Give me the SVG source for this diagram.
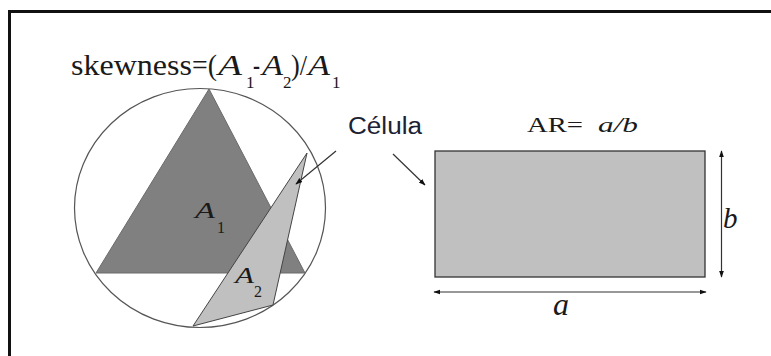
<svg xmlns="http://www.w3.org/2000/svg" width="771" height="356" viewBox="0 0 771 356">
<style>
text.tm{fill:#1a1a1a}
text.it{font-style:italic}
.sans{font-family:"Liberation Sans",Arial,sans-serif;fill:#1c2233}
.line{stroke:#333;stroke-width:1.2;fill:none}
</style>
<defs>
<marker id="ah" viewBox="0 0 10 10" refX="9" refY="5" markerWidth="7" markerHeight="7" markerUnits="userSpaceOnUse" orient="auto-start-reverse">
<path d="M0,1.5 L10,5 L0,8.5 z" fill="#111"/>
</marker>
</defs>
<rect width="771" height="356" fill="#fff"/>
<g id="frame">
<line x1="8" y1="11.5" x2="771" y2="11.5" stroke="#111" stroke-width="3"/>
<line x1="9.5" y1="10" x2="9.5" y2="356" stroke="#111" stroke-width="3"/>
</g>
<g id="skewness-title" font-family="Liberation Serif, DejaVu Serif, serif">
<text class="tm" x="71" y="75" font-size="29" textLength="121" lengthAdjust="spacingAndGlyphs">skewness</text>
<text class="tm" x="192" y="75" font-size="29" textLength="25" lengthAdjust="spacingAndGlyphs">=(</text>
<text class="tm it" x="218" y="75" font-size="29" textLength="24" lengthAdjust="spacingAndGlyphs">A</text>
<text class="tm" x="246" y="88" font-size="17">1</text>
<text class="tm" x="253" y="75" font-size="29" textLength="7" lengthAdjust="spacingAndGlyphs">-</text>
<text class="tm it" x="262" y="75" font-size="29" textLength="21" lengthAdjust="spacingAndGlyphs">A</text>
<text class="tm" x="283" y="88" font-size="17">2</text>
<text class="tm" x="291" y="75" font-size="29" textLength="16" lengthAdjust="spacingAndGlyphs">)/</text>
<text class="tm it" x="308" y="75" font-size="29" textLength="22" lengthAdjust="spacingAndGlyphs">A</text>
<text class="tm" x="332" y="88" font-size="17">1</text>
</g>
<g id="skewness-figure">
<ellipse cx="200" cy="208" rx="125.5" ry="119.5" fill="none" stroke="#555" stroke-width="1.2"/>
<polygon id="triangle-A1" points="209,89 96,273 305,273" fill="#808080" stroke="#6a6a6a" stroke-width="1"/>
<polygon id="triangle-A2" points="307,153 273,305 193,326" fill="#c0c0c0" stroke="#444" stroke-width="1"/>
<g font-family="Liberation Serif, DejaVu Serif, serif">
<text class="tm it" x="195" y="218" font-size="23" textLength="20" lengthAdjust="spacingAndGlyphs">A</text>
<text class="tm" x="217" y="233" font-size="16">1</text>
<text class="tm it" x="235" y="283" font-size="23" textLength="19" lengthAdjust="spacingAndGlyphs">A</text>
<text class="tm" x="254" y="297" font-size="16">2</text>
</g>
</g>
<g id="celula-label">
<text class="sans" x="348" y="134" font-size="23" textLength="74" lengthAdjust="spacingAndGlyphs">Célula</text>
</g>
<g id="ar-figure">
<rect id="cell-rect" x="435" y="151" width="270" height="126" fill="#c0c0c0" stroke="#333" stroke-width="1.3"/>
<g font-family="Liberation Serif, DejaVu Serif, serif">
<text class="tm" x="527" y="132" font-size="22" textLength="56" lengthAdjust="spacingAndGlyphs">AR=</text>
<text class="tm it" x="598" y="132" font-size="22" textLength="40" lengthAdjust="spacingAndGlyphs">a/b</text>
<text class="tm it" x="723" y="228" font-size="29">b</text>
<text class="tm it" x="553" y="315" font-size="32">a</text>
</g>
</g>
<g id="connectors">
<line class="line" x1="336" y1="151" x2="296" y2="184" marker-end="url(#ah)"/>
<line class="line" x1="393" y1="154" x2="425" y2="185" marker-end="url(#ah)"/>
<line class="line" x1="721.5" y1="151" x2="721.5" y2="277" marker-start="url(#ah)" marker-end="url(#ah)"/>
<line class="line" x1="434" y1="292" x2="706" y2="292" marker-start="url(#ah)" marker-end="url(#ah)"/>
</g>
</svg>
